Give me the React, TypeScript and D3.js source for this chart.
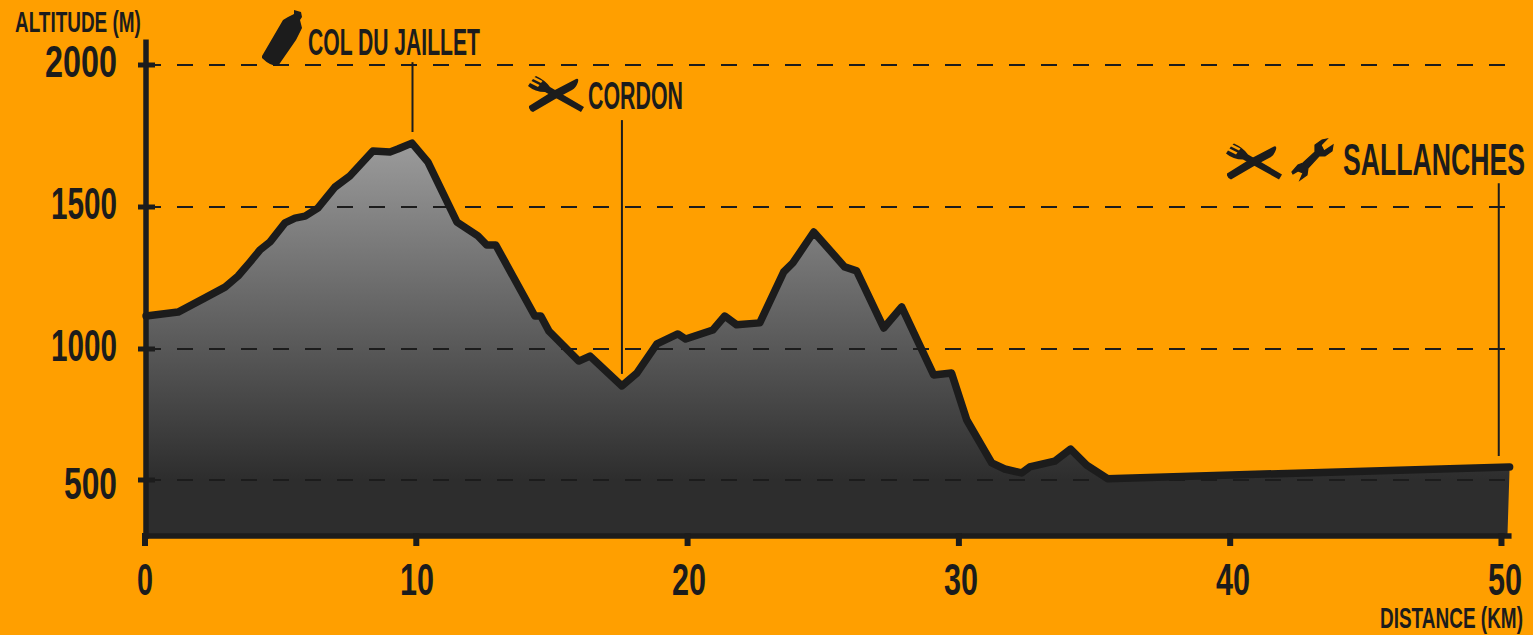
import * as React from 'react';
import * as d3 from 'd3';

const distanceKm = [0.04, 1.22, 2.21, 2.95, 3.43, 3.87, 4.24, 4.61, 5.16, 5.53, 5.9, 6.37, 7.0, 7.55, 8.4, 9.03, 9.32, 9.84, 10.43, 11.5, 12.27, 12.6, 12.93, 14.37, 14.59, 14.89, 15.99, 16.4, 17.58, 18.13, 18.87, 19.64, 19.93, 20.93, 21.37, 21.81, 22.66, 23.54, 23.88, 24.65, 25.79, 26.23, 27.23, 27.89, 29.07, 29.73, 30.29, 31.21, 31.69, 32.31, 32.61, 33.53, 34.12, 34.71, 35.48, 50.3];
const altitudeM = [1116, 1130, 1180, 1218, 1257, 1306, 1349, 1377, 1444, 1461, 1468, 1496, 1570, 1609, 1697, 1694, 1704, 1725, 1658, 1447, 1398, 1366, 1366, 1116, 1116, 1063, 954, 973, 859, 908, 1018, 1053, 1035, 1067, 1116, 1085, 1092, 1271, 1303, 1412, 1289, 1275, 1074, 1148, 901, 908, 729, 565, 542, 527, 550, 572, 618, 557, 505, 550];
const altitudeTicks = [2000, 1500, 1000, 500];
const distanceTicks = [0, 10, 20, 30, 40, 50];

// stops: km, then the altitudes between which the leader line runs
const stopKm = [9.86, 17.58, 49.9];
const stopTop = [2010, 1806, 1584];
const stopBottom = [1764, 905, 592];

const ORANGE = '#ff9f00';
const DARK = '#1c1c1c';
const FONT = '"Liberation Sans Narrow", "Liberation Sans", sans-serif';

const KNIFE = 'M529,106 L553,91 L576,79 Q579,78 578,82 Q576,88 572,90 L557,98 L533,112 Q530,111 529,108 Z';
const FORK = 'M545,92 Q535,92 528,86 L530,83 L538,87 L539.5,85 L531.5,81 L533,79 L541,83 L542.5,81 L534.5,77 L536,76 Q545,80 550,87 L584,107 L581,112 Z';
const BOTTLE = 'M262,56 L283,20 L288,17 L294,14 L294,10 L301,12 L302,17 L300,20 L302,28 L296,40 L278,66 Q270,66 262,58 Z';
const WRENCH = 'M1292,172 L1298,165 L1303,163 L1315,152 L1315,145 L1322,140 L1327,139 L1321,145 L1324,151 L1333,145 L1332,151 L1325,156 L1319,156 L1308,168 L1307,175 L1300,180 L1303,173 L1298,171 L1293,174 Z';

// squeeze a text to the width it has in the picture, the installed fonts are wider
function fit(node: SVGTextElement, x: number, y: number, width: number) {
  const scale = width / node.getComputedTextLength();
  node.setAttribute('x', '0');
  node.setAttribute('y', '0');
  node.removeAttribute('dy');
  node.setAttribute('transform', `translate(${x},${y}) scale(${scale},1)`);
}

function label(
  svg: d3.Selection<SVGSVGElement, unknown, null, undefined>,
  text: string, x: number, baseline: number, size: number, width: number
) {
  const node = svg.append('text').attr('font-size', size).text(text).node() as SVGTextElement;
  fit(node, x, baseline, width);
}

export default function App() {
  const ref = React.useRef<SVGSVGElement>(null);

  React.useEffect(() => {
    document.body.style.margin = '0';
    document.body.style.background = ORANGE;

    const x = d3.scaleLinear().domain([0, 50.27]).range([145, 1508.8]);
    // the picture's altitude axis is not quite even below 1000 m
    const y = d3.scaleLinear()
      .domain([2080, 2000, 1500, 1000, 500, 286])
      .range([42.3, 65, 207, 349, 480, 536]);

    const svg = d3.select(ref.current as SVGSVGElement);
    svg.selectAll('*').remove();
    svg.attr('font-family', FONT).attr('font-weight', 700).attr('fill', DARK);

    const gradient = svg.append('defs').append('linearGradient')
      .attr('id', 'relief')
      .attr('gradientUnits', 'userSpaceOnUse')
      .attr('x1', 0).attr('x2', 0).attr('y1', 140).attr('y2', 480);
    gradient.append('stop').attr('offset', 0).attr('stop-color', '#9c9c9c');
    gradient.append('stop').attr('offset', 1).attr('stop-color', '#2d2d2d');

    const points: [number, number][] = distanceKm.map((d, i) => [d, altitudeM[i]]);
    const toPath = d3.line<[number, number]>().x(d => x(d[0])).y(d => y(d[1]));

    svg.append('path')
      .attr('d', toPath([...points, [50.22, 286], [0.04, 286]]))
      .attr('fill', 'url(#relief)');

    svg.append('g').selectAll('line').data(altitudeTicks).join('line')
      .attr('x1', 145).attr('x2', 1508)
      .attr('y1', d => y(d)).attr('y2', d => y(d))
      .attr('stroke', DARK)
      .attr('stroke-width', 2)
      .attr('stroke-dasharray', '16,16');

    svg.append('path')
      .attr('d', toPath(points))
      .attr('fill', 'none')
      .attr('stroke', DARK)
      .attr('stroke-width', 7.5)
      .attr('stroke-linejoin', 'round')
      .attr('stroke-linecap', 'round');

    const yAxis = svg.append('g')
      .attr('transform', 'translate(146,0)')
      .call(d3.axisLeft(y).tickValues(altitudeTicks).tickFormat(d3.format('d')).tickSizeOuter(0).tickSizeInner(8).offset(0));
    const xAxis = svg.append('g')
      .attr('transform', `translate(0,${y(286)})`)
      .call(d3.axisBottom(x).tickValues(distanceTicks).tickSizeOuter(0).tickSizeInner(10).offset(0));

    [yAxis, xAxis].forEach(axis => {
      axis.attr('font-family', FONT).attr('font-size', null).attr('fill', DARK);
      axis.select('.domain')
        .attr('stroke', DARK)
        .attr('stroke-width', 5.5)
        .attr('stroke-linecap', 'square');
    });

    yAxis.selectAll('.tick line')
      .attr('x1', 9).attr('stroke', DARK).attr('stroke-width', 5);
    yAxis.selectAll<SVGTextElement, number>('.tick text')
      .attr('fill', DARK)
      .attr('font-size', 44)
      .each(function (d) {
        fit(this, -29, d === 500 ? 19 : 12, d === 2000 ? 72 : d === 500 ? 53 : 66);
      });

    xAxis.selectAll('.tick line')
      .attr('y1', -3).attr('stroke', DARK).attr('stroke-width', 6);
    xAxis.selectAll<SVGTextElement, number>('.tick text')
      .attr('fill', DARK)
      .attr('font-size', 45)
      .each(function (d) {
        fit(this, d * 0.07, 59, d === 0 ? 16 : 34);
      });

    svg.append('g').selectAll('line').data(stopKm).join('line')
      .attr('x1', d => x(d)).attr('x2', d => x(d))
      .attr('y1', (_, i) => y(stopTop[i]))
      .attr('y2', (_, i) => y(stopBottom[i]))
      .attr('stroke', DARK)
      .attr('stroke-width', 2);

    label(svg, 'ALTITUDE (M)', 15, 32, 29, 126);
    label(svg, 'DISTANCE (KM)', 1380, 628, 29, 143);
    label(svg, 'COL DU JAILLET', 308, 55, 37, 172);
    label(svg, 'CORDON', 588, 109, 38, 95);
    label(svg, 'SALLANCHES', 1343, 175, 45, 182);

    svg.append('path').attr('d', BOTTLE);
    svg.append('path').attr('d', WRENCH).attr('stroke', DARK).attr('stroke-width', 1.2);
    [[0, 0], [698, 67.5]].forEach(([dx, dy]) => {
      const cutlery = svg.append('g').attr('transform', `translate(${dx},${dy})`);
      cutlery.append('path').attr('d', FORK);
      cutlery.append('path').attr('d', KNIFE);
    });
  }, []);

  return <svg ref={ref} width={1533} height={635} style={{ display: 'block', background: ORANGE }} />;
}
